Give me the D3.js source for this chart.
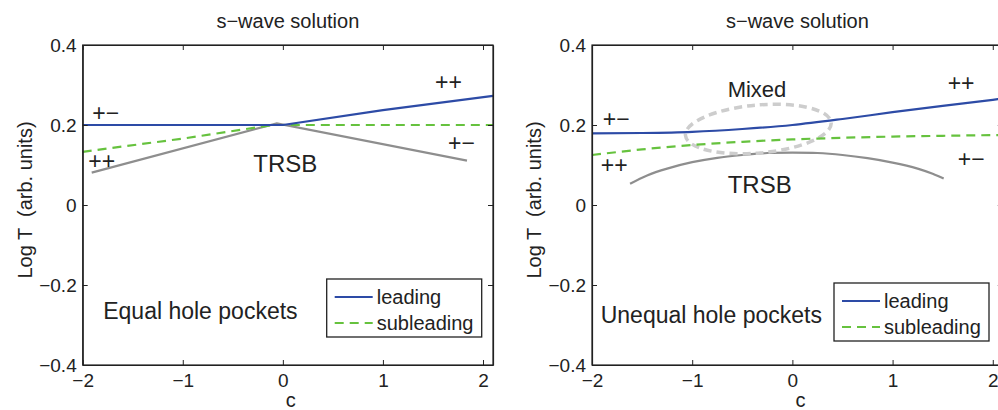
<!DOCTYPE html>
<html>
<head>
<meta charset="utf-8">
<script src="https://cdn.jsdelivr.net/npm/d3@7"></script>
<style>
  body { margin: 0; background: #fff; }
  text { font-family: "Liberation Sans", Arial, sans-serif; fill: #222; }
</style>
</head>
<body>
<script>
// ---- data ----
var xTicks = [-2, -1, 0, 1, 2];
var yTicks = [-0.4, -0.2, 0, 0.2, 0.4];
var xDomain = [-2, 2.1];
var yDomain = [-0.4, 0.4];

// equal hole pockets
var eqLeading = [[-2, 0.2], [0, 0.2], [1, 0.237], [2.1, 0.273]];
var eqSubleading = [[-2, 0.133], [-1, 0.166], [-0.1, 0.2], [2.1, 0.2]];
var eqTRSB = [[-1.91, 0.081], [-0.06, 0.204], [1.84, 0.111]];

// unequal hole pockets
var uneqLeading = [[-2, 0.179], [-1.5, 0.18], [-1, 0.183], [-0.5, 0.19], [0, 0.2], [0.5, 0.215],
                   [1, 0.232], [1.5, 0.248], [2, 0.263], [2.1, 0.266]];
var uneqSubleading = [[-2, 0.125], [-1.5, 0.139], [-1, 0.15], [-0.5, 0.158], [0, 0.164],
                      [0.5, 0.168], [1, 0.171], [1.5, 0.173], [2.1, 0.175]];
var uneqTRSB = [[-1.62, 0.053], [-1.45, 0.074], [-1.25, 0.091], [-1, 0.107], [-0.75, 0.118],
                [-0.5, 0.125], [-0.25, 0.13], [0, 0.131], [0.25, 0.13], [0.5, 0.125],
                [0.75, 0.117], [1, 0.106], [1.25, 0.091], [1.4, 0.078], [1.51, 0.066]];
// "Mixed" region: centre, half-widths (data units), tilt
var mixedEllipse = {cx: -0.34, cy: 0.19, rx: 0.73, ry: 0.06, tilt: -5};

var eqLabels = [
  {t: "+\u2212", x: -1.905, y: 0.21, s: 23},
  {t: "++", x: -1.945, y: 0.09, s: 23},
  {t: "++", x: 1.52, y: 0.2875, s: 23},
  {t: "+\u2212", x: 1.65, y: 0.135, s: 23},
  {t: "TRSB", x: -0.296, y: 0.0825, s: 24},
  {t: "Equal hole pockets", x: -1.795, y: -0.285, s: 23}
];
var uneqLabels = [
  {t: "+\u2212", x: -1.893, y: 0.194, s: 23},
  {t: "++", x: -1.913, y: 0.081, s: 23},
  {t: "++", x: 1.55, y: 0.285, s: 23},
  {t: "+\u2212", x: 1.65, y: 0.094, s: 23},
  {t: "TRSB", x: -0.646, y: 0.031, s: 24},
  {t: "Mixed", x: -0.646, y: 0.271, s: 22},
  {t: "Unequal hole pockets", x: -1.913, y: -0.294, s: 23}
];

var seriesNames = ["leading", "subleading"];

var BLUE = "#2d4ba6", GREEN = "#66c23e", GREY = "#8e8e8e", LIGHT = "#cdcdcd";

var svg = d3.select("body").append("svg")
    .attr("width", 998)
    .attr("height", 410);

function panel(left, right, opt) {
  var x = d3.scaleLinear().domain(xDomain).range([left, right]);
  var y = d3.scaleLinear().domain(yDomain).range([365, 45]);
  var g = svg.append("g");

  var curve = opt.smooth ? d3.curveMonotoneX : d3.curveLinear;
  var line = d3.line().curve(curve).x(function (d) { return x(d[0]); }).y(function (d) { return y(d[1]); });
  var trsbLine = d3.line().curve(opt.smooth ? d3.curveCatmullRom : d3.curveLinear)
      .x(function (d) { return x(d[0]); }).y(function (d) { return y(d[1]); });

  // TRSB boundary
  g.append("path").datum(opt.trsb)
      .attr("d", trsbLine)
      .attr("fill", "none").attr("stroke", GREY).attr("stroke-width", 2.2);

  // mixed ellipse
  if (opt.ellipse) {
    var e = opt.ellipse;
    g.append("ellipse")
        .attr("cx", 0).attr("cy", 0)
        .attr("rx", x(e.cx + e.rx) - x(e.cx))
        .attr("ry", y(e.cy - e.ry) - y(e.cy))
        .attr("transform", "translate(" + x(e.cx) + "," + y(e.cy) + ") rotate(" + e.tilt + ")")
        .attr("fill", "none").attr("stroke", LIGHT).attr("stroke-width", 3.5)
        .attr("stroke-dasharray", "8,5");
  }

  g.append("path").datum(opt.sub)
      .attr("d", line)
      .attr("fill", "none").attr("stroke", GREEN).attr("stroke-width", 2.2)
      .attr("stroke-dasharray", "9,6");

  g.append("path").datum(opt.lead)
      .attr("d", line)
      .attr("fill", "none").attr("stroke", BLUE).attr("stroke-width", 2.2);

  // axes (box with inward ticks)
  var fmtY = function (d) { return d === 0 ? "0" : d3.format(".1f")(d); };
  var ax = [
    d3.axisBottom(x).tickValues(xTicks).tickFormat(d3.format("d")).tickSizeInner(-5).tickSizeOuter(0).tickPadding(9),
    d3.axisTop(x).tickValues(xTicks).tickFormat("").tickSizeInner(-5).tickSizeOuter(0),
    d3.axisLeft(y).tickValues(yTicks).tickFormat(fmtY).tickSizeInner(-5).tickSizeOuter(0).tickPadding(6),
    d3.axisRight(y).tickValues(yTicks).tickFormat("").tickSizeInner(-5).tickSizeOuter(0)
  ];
  var pos = ["translate(0,365)", "translate(0,45)", "translate(" + left + ",0)", "translate(" + right + ",0)"];
  ax.forEach(function (a, i) {
    var ag = g.append("g").attr("transform", pos[i]).call(a);
    ag.select(".domain").attr("stroke", "#222").attr("stroke-width", 1.2);
    ag.selectAll(".tick line").attr("stroke", "#222");
    ag.selectAll("text").attr("font-size", "19px").attr("fill", "#222")
        .attr("font-family", "'Liberation Sans', Arial, sans-serif");
  });
  g.append("rect").attr("x", left).attr("y", 45).attr("width", right - left).attr("height", 320)
      .attr("fill", "none").attr("stroke", "#222").attr("stroke-width", 1.2);

  // titles
  var mid = (left + right) / 2;
  g.append("text").attr("x", mid).attr("y", 28).attr("text-anchor", "middle")
      .attr("font-size", "20px").text("s\u2212wave solution");
  g.append("text").attr("x", x(0) + 8).attr("y", 407).attr("text-anchor", "middle")
      .attr("font-size", "20px").text("c");
  g.append("text").attr("transform", "translate(" + (left - 51) + ",200) rotate(-90)")
      .attr("text-anchor", "middle").attr("font-size", "20px").text("Log T \u00a0(arb. units)");

  // annotations
  g.selectAll("text.ann").data(opt.labels).enter().append("text")
      .attr("class", "ann")
      .attr("x", function (d) { return x(d.x); })
      .attr("y", function (d) { return y(d.y); })
      .attr("font-size", function (d) { return d.s + "px"; })
      .text(function (d) { return d.t; });

  // legend
  var lx = left + opt.legend[0], ly = opt.legend[1];
  var lg = g.append("g").attr("transform", "translate(" + lx + "," + ly + ")");
  lg.append("rect").attr("width", 155).attr("height", 58)
      .attr("fill", "#fff").attr("stroke", "#222").attr("stroke-width", 1.3);
  seriesNames.forEach(function (name, i) {
    var yy = 18 + i * 26;
    lg.append("line").attr("x1", 8).attr("x2", 46).attr("y1", yy).attr("y2", yy)
        .attr("stroke", i === 0 ? BLUE : GREEN).attr("stroke-width", 2.2)
        .attr("stroke-dasharray", i === 0 ? null : "9,6");
    lg.append("text").attr("x", 50).attr("y", yy + 7).attr("font-size", "20px").text(name);
  });
}

panel(82.7, 493, {lead: eqLeading, sub: eqSubleading, trsb: eqTRSB, labels: eqLabels, legend: [244, 279]});
panel(592, 1002.8, {lead: uneqLeading, sub: uneqSubleading, trsb: uneqTRSB, smooth: true,
                    ellipse: mixedEllipse, labels: uneqLabels, legend: [242, 283]});
</script>
</body>
</html>
